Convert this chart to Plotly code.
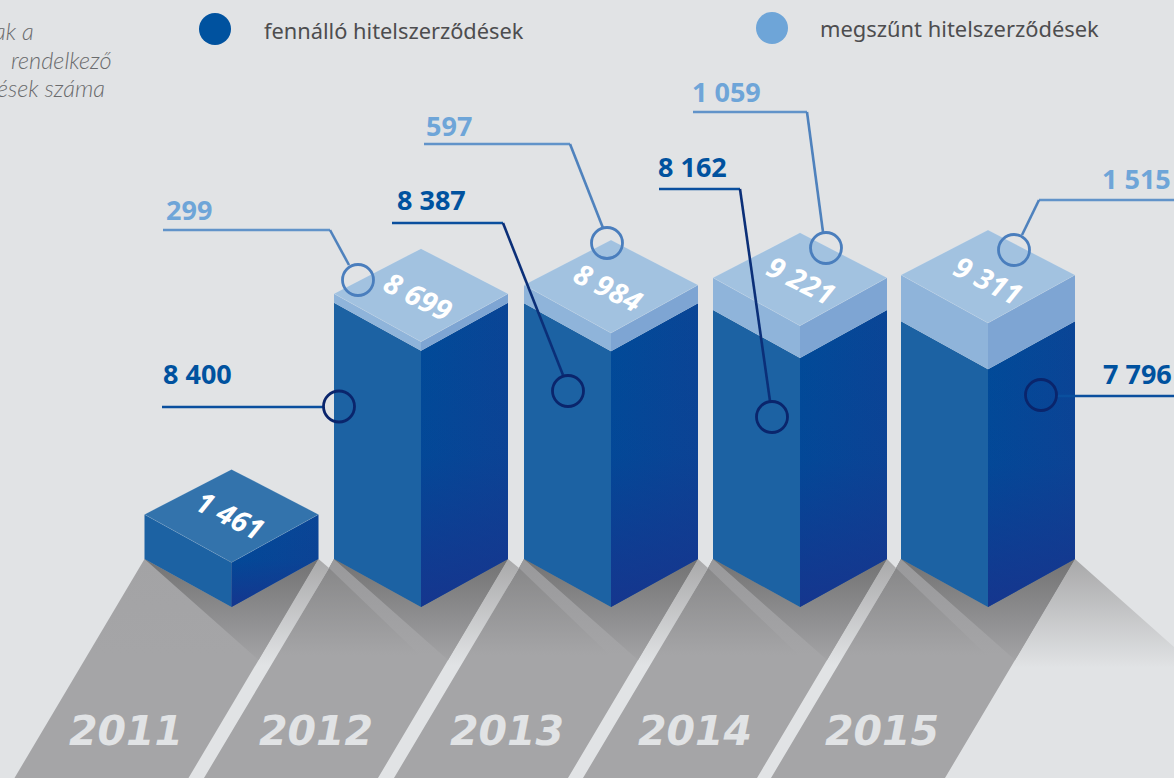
import plotly.graph_objects as go

# ---------- data ----------
years = ["2011", "2012", "2013", "2014", "2015"]
active = [1461, 8400, 8387, 8162, 7796]
ended = [0, 299, 597, 1059, 1515]
legend_labels = ["fennálló hitelszerződések", "megszűnt hitelszerződések"]
note_lines = ["ak a", "rendelkező", "ések száma"]

# ---------- geometry (styling of the isometric projection) ----------
W, H = 1174, 778
PX = 0.0305          # pixels per contract
FRONT = 607          # pixel row of the bar's front base vertex
centers = [231.5, 421, 611, 800, 988]
HALF = 87
DF, DB = 48, 45


def Y(row):
    """pixel row -> axis value (contracts)"""
    return (FRONT - row) / PX


def D(px):
    return px / PX


BG = "#e1e3e5"
fig = go.Figure()


def poly(xs, ys, color=None, grad=None, line=None):
    kw = dict(x=list(xs) + [xs[0]], y=list(ys) + [ys[0]], mode="lines", fill="toself",
              hoverinfo="skip", showlegend=False)
    kw["line"] = line or dict(width=0)
    if grad:
        kw["fillgradient"] = grad
        kw["fillcolor"] = "rgba(0,0,0,0)"
    else:
        kw["fillcolor"] = color
    fig.add_trace(go.Scatter(**kw))


def vgrad(top, bot, c0, c1):
    return dict(type="vertical", start=Y(top), stop=Y(bot), colorscale=[[0, c0], [1, c1]])


def hgrad(x0, x1, c0, c1):
    return dict(type="horizontal", start=x0, stop=x1, colorscale=[[0, c0], [1, c1]])


# ---------- floor ----------
SL = 130 / 219
lefts = [c - HALF for c in centers]
rights = [c + HALF for c in centers]


def edge(x_top, row_top, row):
    return x_top - (row - row_top) * SL


# fading glow right of the last strip
r = rights[-1]
poly([r, W, W, edge(r, 559, 672)], [Y(559), Y(647), Y(672), Y(672)],
     grad=vgrad(559, 668, "#a8a8a9", BG))
# light bands between strips (dark at top, fading to the background)
for i in range(4):
    r, l = rights[i], lefts[i + 1]
    poly([r, l - 5, edge(l - 5, 568, 670), edge(r, 559, 670)], [Y(559), Y(568), Y(670), Y(670)],
         grad=vgrad(559, 665, "#a9a9aa", BG))

for i, c in enumerate(centers):
    l, r = lefts[i], rights[i]
    apex_row = 660
    apex_x = edge(r, 559, apex_row)
    if i == 0:
        sx = [l, r, r - 219 * SL, l - 219 * SL]
        sy = [Y(559), Y(559), Y(778), Y(778)]
    else:
        sx = [l, r, r - 219 * SL, l - 130, l - 5]
        sy = [Y(559), Y(559), Y(778), Y(778), Y(568)]
    poly(sx, sy, grad=vgrad(559, 655, "#858586" if i else "#a3a3a5", "#a5a5a7"))
    if i:
        # paler stripe along the shadow's left side
        poly([l, apex_x, apex_x - 18, l - 5], [Y(559), Y(apex_row), Y(apex_row + 5), Y(568)],
             grad=vgrad(559, 655, "#99999b", "#a5a5a7"))
    # cast shadow of the bar
    poly([l, c, r, apex_x], [Y(559), Y(FRONT), Y(559), Y(apex_row)],
         grad=vgrad(559, 660, "#727273", "#a3a3a5"))

# ---------- bars ----------
for i, c in enumerate(centers):
    l, r = c - HALF, c + HALF
    a, e = active[i], ended[i]
    t = a + e
    # dark part
    poly([l, c, c, l], [D(DF), 0, a, a + D(DF)], color="#1c62a3")
    poly([c, r, r, c], [0, D(DF), a + D(DF), a],
         grad=hgrad(c, r, "#004b99", "#0a4596"))
    # darker towards the lower corner
    top_row = FRONT - a * PX - DF
    poly([c, r, r, c], [0, D(DF), a + D(DF), a],
         grad=dict(type="vertical", start=Y(top_row), stop=Y(607),
                   colorscale=[[0, "rgba(25,50,140,0)"], [0.5, "rgba(25,50,140,0.12)"],
                               [1, "rgba(25,50,140,0.85)"]]))
    if e:
        poly([l, c, c, l], [a + D(DF), a, t, t + D(DF)], color="#8fb4da")
        poly([c, r, r, c], [a, a + D(DF), t + D(DF), t], color="#7ea5d3")
    edge_col = "rgba(255,255,255,0.22)"
    poly([l, c, r, c], [t + D(DF), t, t + D(DF), t + D(DF + DB)],
         color="#a2c2e0" if e else "#3373ac", line=dict(width=0.6, color=edge_col))

# ---------- leader lines and rings ----------
LIGHT_LINE, LIGHT_RING = "#6193c9", "#4a7ebd"
DARK_LINE, DARK_RING = "#0a4f9e", "#0a256c"

light_paths = [
    ([163, 330, 349], [230, 230, 265], (358, 280)),
    ([424, 570, 603], [144, 144, 228], (607, 243)),
    ([693, 807, 823], [112, 112, 232], (826, 248)),
    ([W, 1039, 1022], [200, 200, 235], (1014, 250)),
]
dark_paths = [
    ([162, 323], [407, 407], (339, 406.5)),
    ([392, 503, 563], [223, 223, 375], (568, 391)),
    ([659, 740, 770], [189, 189, 401], (772, 417)),
    ([W, 1057], [396, 396], (1041, 395)),
]
for paths, col, col2, ring in [(light_paths, LIGHT_LINE, "#4f82bd", LIGHT_RING),
                               (dark_paths, DARK_LINE, "#0b2f78", DARK_RING)]:
    for xs, rows, cen in paths:
        fig.add_trace(go.Scatter(x=xs[:2], y=[Y(q) for q in rows[:2]], mode="lines",
                                 line=dict(color=col, width=2.6), hoverinfo="skip", showlegend=False))
        if len(xs) > 2:
            fig.add_trace(go.Scatter(x=xs[1:], y=[Y(q) for q in rows[1:]], mode="lines",
                                     line=dict(color=col2, width=2.6), hoverinfo="skip", showlegend=False))
        fig.add_trace(go.Scatter(x=[cen[0]], y=[Y(cen[1])], mode="markers", hoverinfo="skip", showlegend=False,
                                 marker=dict(size=31, color="rgba(0,0,0,0)", line=dict(color=ring, width=2.8))))

# ---------- legend ----------
for x, row, col in [(215, 29, "#00529f"), (772, 28, "#6ea5d8")]:
    fig.add_trace(go.Scatter(x=[x], y=[Y(row)], mode="markers", hoverinfo="skip", showlegend=False,
                             marker=dict(size=32, color=col, line=dict(width=0))))


def text(x, row, s, size, color, family="Noto Sans", weight="normal", italic=False, anchor="left", angle=0):
    fig.add_annotation(x=x, y=Y(row), text=s, showarrow=False, xanchor=anchor, yanchor="middle",
                       textangle=angle, align=anchor if anchor != "center" else "center",
                       borderpad=0,
                       font=dict(size=size, color=color, family=family, weight=weight,
                                 style="italic" if italic else "normal"))


def fmt(v):
    return f"{v:,}".replace(",", " ")


text(263, 30, legend_labels[0], 21.8, "#4d4d4f")
text(819, 28, legend_labels[1], 21.9, "#4d4d4f")
for line, end, row in zip(note_lines, [35, 113, 106], [31, 60, 88]):
    text(end, row, line, 23.5, "#6a6b6d", family="Lato", weight=300, italic=True, anchor="right")

light_lbl = [(165, 209), (425, 125), (691, 91)]
dark_lbl = [(162, 373), (396, 199), (657, 166)]
for i in range(1, 4):
    text(light_lbl[i - 1][0], light_lbl[i - 1][1], fmt(ended[i]), 27, "#6ea5d8", weight="bold")
    text(dark_lbl[i - 1][0], dark_lbl[i - 1][1], fmt(active[i]), 27, "#00529f", weight="bold")
text(1172, 178, fmt(ended[4]), 27, "#6ea5d8", weight="bold", anchor="right")
text(1173, 373, fmt(active[4]), 27, "#00529f", weight="bold", anchor="right")

top_pos = [(230, 514), (418, 295), (608, 286), (801, 279), (988, 279)]
for i, (x, row) in enumerate(top_pos):
    text(x, row, fmt(active[i] + ended[i]), 29, "white", weight="bold", italic=True, anchor="center", angle=27)

year_x = [126, 316, 507, 695, 882]
for x, y in zip(year_x, years):
    text(x, 731, y, 41, BG, family="DejaVu Sans", weight="bold", italic=True, anchor="center")

fig.update_layout(width=W, height=H, margin=dict(l=0, r=0, t=0, b=0), paper_bgcolor=BG, plot_bgcolor=BG,
                  xaxis=dict(range=[0, W], visible=False, fixedrange=True),
                  yaxis=dict(range=[Y(H), Y(0)], visible=False, fixedrange=True),
                  showlegend=False)
fig.write_html("out.html", config=dict(displayModeBar=False),
               post_script="document.body.style.margin='0';document.body.style.background='#e1e3e5';")
